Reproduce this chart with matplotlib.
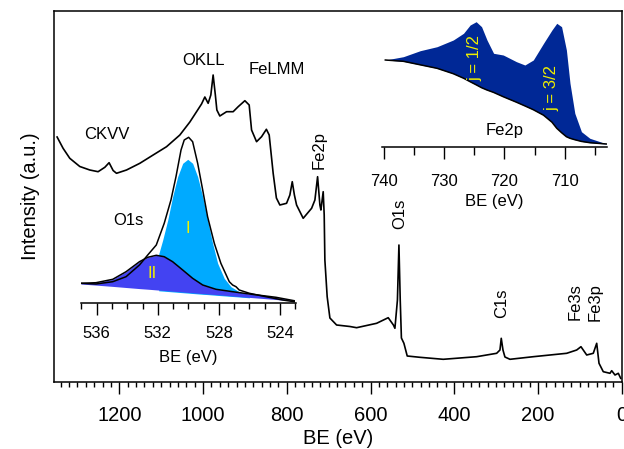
import matplotlib
matplotlib.use("Agg")
import matplotlib.pyplot as plt
from matplotlib.ticker import MultipleLocator

plt.rcParams['font.family'] = ['Liberation Sans', 'DejaVu Sans']

# ---------------- survey spectrum ----------------
survey_be = [1348.6, 1334.3, 1318.3, 1294.4, 1270.5, 1250.7, 1234.6, 1224.4, 1214.8, 1206.7,
             1182.8, 1151.0, 1119.2, 1087.2, 1055.4, 1031.5, 1015.5, 1003.6, 995.7, 987.8,
             981.4, 975.9, 970.6, 967.0, 959.9, 943.8, 928.1, 916.1, 900.1, 889.8,
             884.1, 872.2, 860.2, 848.7, 842.0, 832.5, 824.8, 816.5, 800.5, 792.6,
             786.9, 781.8, 776.6, 760.8, 740.7, 732.8, 726.4, 720.9, 718.5, 713.0,
             710.6, 709.0, 703.5, 697.0, 681.0, 649.2, 633.2, 585.4, 557.7, 545.3,
             541.7, 535.7, 532.1, 529.0, 526.2, 520.2, 512.3, 482.0, 426.3, 346.5,
             298.7, 290.8, 287.7, 283.6, 278.9, 266.9, 211.2, 131.4, 107.5, 97.3,
             83.6, 67.9, 59.7, 54.2, 44.0, 28.0, 23.9, 16.0, 8.1, 2.4]
survey_int = [244.7, 233.4, 223.4, 215.2, 211.7, 210.0, 214.4, 219.0, 211.2, 208.4,
              211.7, 218.4, 226.7, 235.0, 246.7, 259.7, 270.0, 277.7, 284.7, 278.4,
              286.7, 306.7, 286.7, 271.7, 265.7, 270.0, 270.0, 275.0, 281.0, 276.7,
              251.7, 240.0, 245.0, 252.4, 246.7, 208.4, 183.7, 176.7, 178.4, 186.7,
              200.0, 186.7, 176.7, 163.4, 173.4, 181.7, 205.0, 176.7, 171.7, 190.0,
              166.7, 121.7, 85.0, 63.7, 56.7, 55.2, 54.0, 58.4, 64.0, 56.7,
              53.4, 81.7, 136.7, 81.7, 43.7, 38.4, 25.7, 24.4, 22.4, 25.0,
              28.4, 31.7, 43.4, 31.7, 24.7, 22.4, 25.0, 28.4, 31.7, 35.0,
              26.7, 28.4, 38.4, 18.4, 10.0, 8.4, 11.0, 6.7, 8.4, 3.4]

survey_labels = ["CKVV", "OKLL", "FeLMM"]
survey_label_be = [1229, 998, 824]
survey_label_int = [247, 321, 312]
rot_labels = ["Fe2p", "O1s", "C1s", "Fe3s", "Fe3p"]
rot_label_be = [722.6, 529.8, 286.7, 111.6, 63.8]
rot_label_int = [231.7, 168.0, 78.4, 80.0, 80.0]

# ---------------- O1s inset ----------------
o1s_be = [537.03, 536.05, 534.95, 534.08, 533.2, 532.66, 532.1, 531.58, 531.14, 530.81,
          530.48, 530.27, 529.98, 529.72, 529.39, 529.06, 528.74, 528.3, 527.87, 527.32,
          527.1, 526.88, 526.67, 526.0, 524.92, 523.83, 523.07]
o1s_env = [20.0, 19.3, 21.6, 26.6, 38.3, 48.3, 58.3, 80.0, 103.3, 126.6,
           153.3, 163.3, 166.0, 161.6, 140.0, 113.3, 86.6, 60.0, 40.0, 21.6,
           18.3, 16.6, 13.3, 10.0, 6.6, 3.3, 1.6]
comp1_be = [531.94, 531.68, 531.35, 531.03, 530.7, 530.37, 530.04, 529.72, 529.39, 529.06,
            528.74, 528.41, 528.08, 527.65, 527.21, 526.67, 526.0]
comp1_int = [49.3, 63.3, 83.3, 106.6, 126.6, 140.0, 144.0, 140.0, 126.6, 106.6,
             83.3, 60.0, 40.0, 25.0, 16.6, 11.6, 8.0]
comp1_bg = [12.5, 12.2, 11.8, 11.4, 11.0, 10.6, 10.2, 9.8, 9.4, 9.0,
            8.7, 8.3, 7.9, 7.4, 6.9, 6.3, 5.5]
comp2_be = [537.03, 536.05, 534.95, 534.08, 533.2, 532.66, 532.1, 531.58, 531.03, 530.37,
            529.72, 529.06, 528.19, 527.1, 526.0, 524.26, 523.07]
comp2_int = [20.0, 20.6, 24.0, 31.6, 41.6, 46.0, 48.0, 46.6, 41.6, 33.3,
             25.0, 18.3, 14.0, 11.6, 9.3, 6.0, 2.6]
comp2_bg = [19.3, 18.2, 16.9, 15.8, 14.7, 14.1, 13.4, 12.8, 12.1, 11.3,
            10.5, 9.7, 8.7, 7.3, 5.9, 3.8, 2.3]

# ---------------- Fe2p inset ----------------
fe_be = [739.8, 736.8, 734.0, 731.2, 728.5, 726.8, 725.7, 724.7, 723.8, 722.9,
         721.8, 720.2, 718.0, 716.6, 715.2, 713.5, 712.1, 711.3, 710.5, 709.7,
         709.1, 708.3, 707.2, 705.8, 704.1, 703.0]
fe_int = [86.7, 90.0, 96.0, 100.0, 106.7, 113.4, 121.7, 125.0, 120.0, 106.7,
          93.4, 91.7, 85.0, 81.7, 86.7, 103.4, 116.7, 123.4, 120.0, 96.7,
          63.4, 33.4, 15.0, 8.4, 5.0, 2.7]
fe_bg = [86.7, 85.4, 81.9, 78.4, 73.0, 68.5, 65.0, 61.9, 59.0, 56.7,
         54.3, 50.0, 44.5, 40.8, 37.0, 31.5, 24.5, 18.4, 14.0, 10.0,
         8.4, 7.0, 5.3, 4.0, 3.2, 2.7]

W, H = 624, 449
fig = plt.figure(figsize=(W / 100, H / 100), dpi=100)


def frame(l, r, t, b):
    return [l / W, 1 - b / H, (r - l) / W, (b - t) / H]


# main axes
ax = fig.add_axes(frame(54, 621.7, 11, 381.7))
ax.plot(survey_be, survey_int, color='black', lw=1.2)
ax.set_xlim(1356, 0)
ax.set_ylim(0, 370.7)
ax.xaxis.set_major_locator(MultipleLocator(200))
ax.xaxis.set_minor_locator(MultipleLocator(20))
ax.tick_params(axis='x', which='major', direction='out', length=8.6, width=1.0,
               labelsize=14.5, pad=9)
ax.tick_params(axis='x', which='minor', direction='out', length=3.6, width=1.0)
ax.set_yticks([])
for s in ax.spines.values():
    s.set_linewidth(1.1)
ax.set_xlabel("BE (eV)", fontsize=14.5, labelpad=3)
ax.set_ylabel("Intensity (a.u.)", fontsize=14.5, labelpad=10)

for t, x, y in zip(survey_labels, survey_label_be, survey_label_int):
    ax.text(x, y, t, fontsize=12, ha='center', va='center')
for t, x, y in zip(rot_labels, rot_label_be, rot_label_int):
    ax.text(x, y, t, fontsize=12, ha='center', va='center', rotation=90)

# O1s inset
ai = fig.add_axes(frame(80.7, 296, 130, 303.3))
ai.patch.set_alpha(0)
ai.fill_between(comp1_be, comp1_bg, comp1_int, color='#00AAFF', lw=0)
ai.fill_between(comp2_be, comp2_bg, comp2_int, color='#4343F2', lw=0)
ai.plot(comp2_be, comp2_int, color='black', lw=1.1)
ai.plot(o1s_be, o1s_env, color='black', lw=1.1)
ai.set_xlim(537.05, 522.95)
ai.set_ylim(0, 173.3)
for k in ['top', 'left', 'right']:
    ai.spines[k].set_visible(False)
ai.spines['bottom'].set_linewidth(1.1)
ai.set_yticks([])
ai.xaxis.set_major_locator(MultipleLocator(4))
ai.xaxis.set_minor_locator(MultipleLocator(1))
ai.tick_params(axis='x', which='major', direction='out', length=8.6, width=1.0,
               labelsize=12, pad=8)
ai.tick_params(axis='x', which='minor', direction='out', length=4.3, width=1.0)
ai.set_xlabel("BE (eV)", fontsize=12, labelpad=6)
ai.text(533.93, 83.3, "O1s", fontsize=12, ha='center', va='center')
ai.text(530.02, 75.3, "I", fontsize=12, ha='center', va='center', color='#F0F000')
ai.text(532.4, 29.3, "II", fontsize=12, ha='center', va='center', color='#F0F000')

# Fe2p inset
af = fig.add_axes(frame(381.7, 606.7, 15, 146.7))
af.patch.set_alpha(0)
af.fill_between(fe_be, fe_bg, fe_int, color='#002896', lw=0)
af.plot(fe_be, fe_bg, color='black', lw=1.1)
af.set_xlim(740.4, 703.0)
af.set_ylim(0, 131.7)
for k in ['top', 'left', 'right']:
    af.spines[k].set_visible(False)
af.spines['bottom'].set_linewidth(1.1)
af.set_yticks([])
af.xaxis.set_major_locator(MultipleLocator(10))
af.xaxis.set_minor_locator(MultipleLocator(5))
af.tick_params(axis='x', which='major', direction='out', length=8.4, width=1.0,
               labelsize=12, pad=11)
af.tick_params(axis='x', which='minor', direction='out', length=5.5, width=1.0)
af.set_xlabel("BE (eV)", fontsize=12, labelpad=4)
af.text(724.9, 88.7, "j = 1/2", fontsize=12, ha='center', va='center', rotation=90,
        color='#F0F000')
af.text(712.1, 58.4, "j = 3/2", fontsize=12, ha='center', va='center', rotation=90,
        color='#F0F000')
af.text(719.9, 16.7, "Fe2p", fontsize=12, ha='center', va='center')

fig.savefig("out.png", dpi=100)
